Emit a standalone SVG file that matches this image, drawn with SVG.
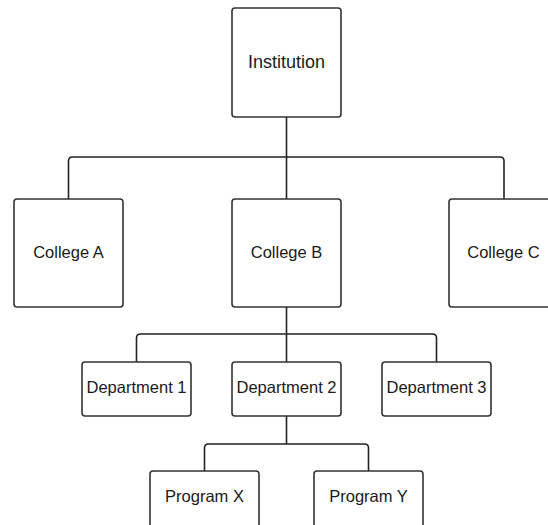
<svg xmlns="http://www.w3.org/2000/svg" width="548" height="525" viewBox="0 0 548 525">
<style>
.box{fill:#fff;stroke:#333;stroke-width:1.6}
.lbl{font-family:"Liberation Sans",Arial,sans-serif;font-size:16.5px;fill:#1a1a1a;text-anchor:middle;dominant-baseline:central}
.big{font-size:18px}
.conn{fill:none;stroke:#222;stroke-width:1.6}
</style>
<rect width="548" height="525" fill="#fff"/>
<g id="connectors">
<path class="conn" d="M286.5 117 V157"/>
<path class="conn" d="M68.5 199 V161 Q68.5 157 72.5 157 H500 Q504 157 504 161 V199"/>
<path class="conn" d="M286.5 157 V199"/>
<path class="conn" d="M286.5 307 V362"/>
<path class="conn" d="M136.5 362 V338 Q136.5 334 140.5 334 H432.5 Q436.5 334 436.5 338 V362"/>
<path class="conn" d="M286.5 416 V444"/>
<path class="conn" d="M204.5 471 V448 Q204.5 444 208.5 444 H364.5 Q368.5 444 368.5 448 V471"/>
</g>
<g id="institution"><rect class="box" x="232" y="8" width="109" height="109" rx="3"/><text class="lbl big" x="286.5" y="62">Institution</text></g>
<g id="college-a"><rect class="box" x="14" y="199" width="109" height="108" rx="3"/><text class="lbl" x="68.5" y="252">College A</text></g>
<g id="college-b"><rect class="box" x="232" y="199" width="109" height="108" rx="3"/><text class="lbl" x="286.5" y="252">College B</text></g>
<g id="college-c"><rect class="box" x="449" y="199" width="109" height="108" rx="3"/><text class="lbl" x="503.5" y="252">College C</text></g>
<g id="department-1"><rect class="box" x="82" y="362" width="109" height="54" rx="3"/><text class="lbl" x="136.5" y="387">Department 1</text></g>
<g id="department-2"><rect class="box" x="232" y="362" width="109" height="54" rx="3"/><text class="lbl" x="286.5" y="387">Department 2</text></g>
<g id="department-3"><rect class="box" x="382" y="362" width="109" height="54" rx="3"/><text class="lbl" x="436.5" y="387">Department 3</text></g>
<g id="program-x"><rect class="box" x="150" y="471" width="109" height="108" rx="3"/><text class="lbl" x="204.5" y="496">Program X</text></g>
<g id="program-y"><rect class="box" x="314" y="471" width="109" height="108" rx="3"/><text class="lbl" x="368.5" y="496">Program Y</text></g>
</svg>
